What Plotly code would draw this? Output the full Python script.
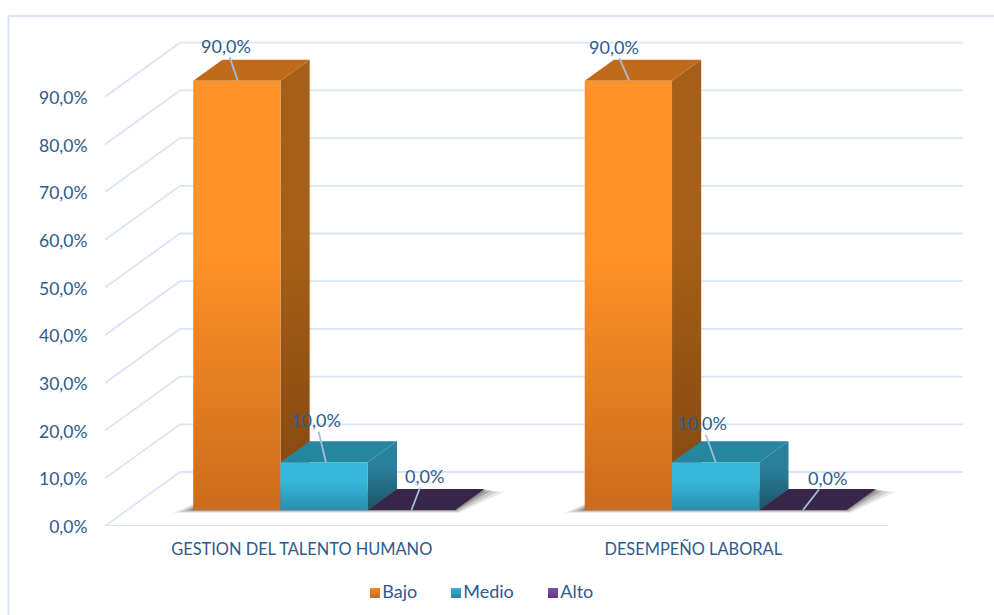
import plotly.graph_objects as go

# Chart data
categories = ["GESTION DEL TALENTO HUMANO", "DESEMPEÑO LABORAL"]
series_names = ["Bajo", "Medio", "Alto"]
bajo = [90.0, 90.0]
medio = [10.0, 10.0]
alto = [0.0, 0.0]
y_ticks = [0, 10, 20, 30, 40, 50, 60, 70, 80, 90]


def pct(v):
    return f"{v:.1f}".replace(".", ",") + "%"


# Figure and scale constants
W, H = 994, 615
PLOT_L, PLOT_R, PLOT_B = 105, 963, 526
PX_X = 391.5    # pixels per category
PX_Y = 4.77     # pixels per percentage point
DEPTH_PX = (75, 54)
BAR_NEAR, BAR_FAR = 16 / 54, 37 / 54
GROUP_PAD = 66 / PX_X
BAR_W = 87.3 / PX_X

TEXT = "#2F5A8C"
GRID = "#D9E5F6"
LEADER = "#A3BEDD"
FONT = "Lato"

# Face colours per series: front (top, bottom), side (top, bottom), cap, key swatch (top, bottom)
palette = {
    "Bajo": dict(front=("#FF9228", "#CB6B1C"), side=("#A65F18", "#82470F"), cap="#C06A1B", key=("#F58A25", "#C26A1E")),
    "Medio": dict(front=("#37B7DB", "#2A8DAC"), side=("#29809A", "#1A5565"), cap="#26859F", key=("#35B3D6", "#26809C")),
    "Alto": dict(front=("#38264A", "#38264A"), side=("#38264A", "#38264A"), cap="#38264A", key=("#8250A8", "#5F3A7E")),
}


def project(x, v, depth):
    """Oblique projection of (category position, value, depth) onto the axes."""
    return x + depth * DEPTH_PX[0] / PX_X, v + depth * DEPTH_PX[1] / PX_Y


def face(points, fill=None, gradient=None):
    xs = [p[0] for p in points] + [points[0][0]]
    ys = [p[1] for p in points] + [points[0][1]]
    kw = dict(x=xs, y=ys, mode="lines", line=dict(width=0), fill="toself",
              showlegend=False, hoverinfo="skip", cliponaxis=False)
    if gradient:
        kw["fillgradient"] = dict(type="vertical",
                                  colorscale=[[0, gradient[1]], [0.6, gradient[0]], [1, gradient[0]]])
    else:
        kw["fillcolor"] = fill
    return go.Scatter(**kw)


fig = go.Figure()

# Wall and floor gridlines
x_back = (PLOT_R - PLOT_L) / PX_X
for t in y_ticks:
    bx, by = project(0, t, 1)
    fig.add_trace(go.Scatter(x=[0, bx, x_back], y=[t, by, by], mode="lines",
                             line=dict(color=GRID, width=1.8), showlegend=False,
                             hoverinfo="skip", cliponaxis=False))
fig.add_trace(go.Scatter(x=[0, len(categories)], y=[0, 0], mode="lines",
                         line=dict(color=GRID, width=1.8), showlegend=False,
                         hoverinfo="skip", cliponaxis=False))

values = {"Bajo": bajo, "Medio": medio, "Alto": alto}
group_w = BAR_W * len(series_names)

# Soft floor shadow beneath each cluster
for g in range(len(categories)):
    x0 = g + GROUP_PAD
    for grow, alpha in [(20, 0.12), (14, 0.18), (8, 0.26), (3, 0.36)]:
        e = grow / PX_X
        low = -grow * 0.14 / PX_Y
        pts = [project(x0 - e, low, BAR_NEAR), project(x0 + group_w + e * 0.2, low, BAR_NEAR),
               project(x0 + group_w + e, low, BAR_FAR), project(x0, low, BAR_FAR)]
        fig.add_trace(face(pts, fill=f"rgba(70,70,70,{alpha})"))

# Bars: back faces first, left to right so that nearer faces overlap
for g in range(len(categories)):
    for s, name in enumerate(series_names):
        v = values[name][g]
        c = palette[name]
        x0 = g + GROUP_PAD + s * BAR_W
        x1 = x0 + BAR_W
        fig.add_trace(face([project(x1, 0, BAR_NEAR), project(x1, 0, BAR_FAR),
                            project(x1, v, BAR_FAR), project(x1, v, BAR_NEAR)],
                           gradient=c["side"]))
        fig.add_trace(face([project(x0, v, BAR_NEAR), project(x1, v, BAR_NEAR),
                            project(x1, v, BAR_FAR), project(x0, v, BAR_FAR)],
                           fill=c["cap"]))
        if v > 0:
            fig.add_trace(face([project(x0, 0, BAR_NEAR), project(x1, 0, BAR_NEAR),
                                project(x1, v, BAR_NEAR), project(x0, v, BAR_NEAR)],
                               gradient=c["front"]))

# Series key: a hidden strip of axes below the chart, scaled in pixels
key_y = 593
key_swatch_px = [375, 456, 553]
for name, px in zip(series_names, key_swatch_px):
    top, bottom = palette[name]["key"]
    fig.add_trace(go.Scatter(x=[px], y=[key_y], xaxis="x2", yaxis="y2", mode="markers+text",
                             name=name, text=[name], textposition="middle right",
                             textfont=dict(family=FONT, size=18, color=TEXT),
                             marker=dict(symbol="square", size=10, color=top,
                                         gradient=dict(type="vertical", color=bottom),
                                         line=dict(width=0)),
                             showlegend=False, hoverinfo="skip", cliponaxis=False))

# Data labels with leader lines: (anchor shift along bar, text offset in pixels)
label_layout = {
    (0, "Bajo"): (0.51, -12, -35),
    (0, "Medio"): (0.52, -10, -42),
    (0, "Alto"): (0.50, 13, -34),
    (1, "Bajo"): (0.51, -15, -34),
    (1, "Medio"): (0.50, -14, -39),
    (1, "Alto"): (0.50, 25, -32),
}
annotations = []
for g in range(len(categories)):
    for s, name in enumerate(series_names):
        v = values[name][g]
        frac, ax, ay = label_layout[(g, name)]
        ax0, ay0 = project(g + GROUP_PAD + (s + frac) * BAR_W, v, BAR_NEAR)
        annotations.append(dict(x=ax0, y=ay0, xref="x", yref="y", text=pct(v),
                                axref="pixel", ayref="pixel", ax=ax, ay=ay,
                                showarrow=True, arrowhead=0, arrowwidth=1.8,
                                arrowcolor=LEADER, borderpad=0, standoff=0,
                                font=dict(family=FONT, size=18, color=TEXT)))

plot_w = PLOT_R - PLOT_L
plot_top = PLOT_B / PX_Y
fig.update_layout(
    width=W, height=H,
    margin=dict(l=PLOT_L, r=W - PLOT_R, t=0, b=0, autoexpand=False),
    paper_bgcolor="white", plot_bgcolor="rgba(0,0,0,0)",
    font=dict(family=FONT, color=TEXT, size=16),
    showlegend=False,
    xaxis=dict(range=[0, x_back], showgrid=False, zeroline=False, showline=False,
               tickmode="array", tickvals=[i + 0.5 for i in range(len(categories))],
               ticktext=categories, ticks="outside", ticklen=8, tickcolor="rgba(0,0,0,0)",
               ticklabelshift=1,
               tickfont=dict(family=FONT, size=16.4, color=TEXT), tickangle=0),
    yaxis=dict(domain=[(H - PLOT_B) / H, 1], range=[0, plot_top], showgrid=False,
               zeroline=False, showline=False,
               tickmode="array", tickvals=y_ticks, ticktext=[pct(t) for t in y_ticks],
               ticks="outside", ticklen=13, tickcolor="rgba(0,0,0,0)", ticklabelshift=1,
               tickfont=dict(family=FONT, size=17.5, color=TEXT)),
    xaxis2=dict(domain=[0, 1], range=[PLOT_L, PLOT_R], anchor="y2", visible=False),
    yaxis2=dict(domain=[0, (H - PLOT_B) / H], range=[H, PLOT_B], anchor="x2", visible=False),
    annotations=annotations,
    shapes=[
        # Chart frame along the left and top edges
        dict(type="line", xref="paper", yref="paper",
             x0=(8.5 - PLOT_L) / plot_w, x1=(8.5 - PLOT_L) / plot_w,
             y0=0, y1=(H - 16) / H,
             line=dict(color=GRID, width=2)),
        dict(type="line", xref="paper", yref="paper",
             x0=(8.5 - PLOT_L) / plot_w, x1=(W - PLOT_L) / plot_w,
             y0=(H - 16) / H, y1=(H - 16) / H,
             line=dict(color=GRID, width=2)),
    ],
)

fig.write_html("out.html")
